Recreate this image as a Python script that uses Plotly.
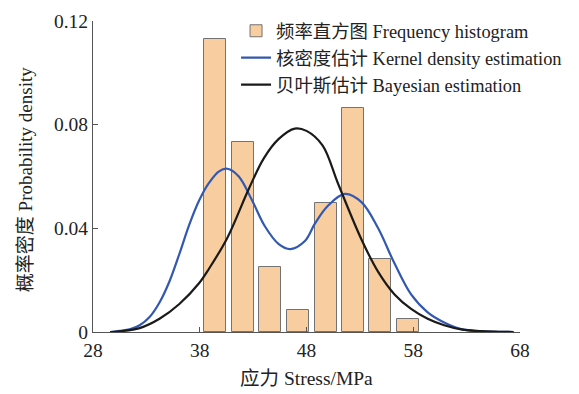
import plotly.graph_objects as go

# Histogram (density)
bin_centers = [39.44, 42.07, 44.62, 47.22, 49.82, 52.37, 54.92, 57.52]
bin_density = [0.113, 0.0733, 0.0249, 0.0083, 0.0498, 0.0864, 0.0283, 0.0049]

# Kernel density estimation curve (read points)
kde_x = [29.7, 30.51, 31.44, 32.37, 33.3, 34.23, 35.16, 36.09, 37.02, 37.95, 38.88, 39.81,
         40.59, 41.64, 42.9, 44.1, 45.4, 46.5, 47.85, 48.81, 50.05, 51.6, 53.15, 54.7,
         56.25, 57.8, 59.35, 60.9, 62.5, 64.0, 65.5, 67.4]
kde_y = [0.0, 0.0004, 0.001, 0.0026, 0.0058, 0.0114, 0.0195, 0.0301, 0.0414, 0.0508, 0.0576,
         0.062, 0.063, 0.0601, 0.0508, 0.0408, 0.0339, 0.032, 0.0351, 0.042, 0.0489, 0.0533,
         0.0501, 0.0401, 0.0264, 0.0145, 0.0076, 0.0037, 0.0011, 0.0003, 0.0001, 0.0]

# Bayesian estimation curve (read points)
bay_x = [29.6, 30.5, 32.37, 34.23, 36.09, 37.95, 38.88, 40.59, 42.57, 44.0, 45.4, 46.9,
         48.0, 49.5, 50.98, 53.15, 54.7, 56.25, 57.8, 59.35, 60.9, 62.5, 64.5, 66.0, 67.4]
bay_y = [0.0, 0.0003, 0.0015, 0.0051, 0.0108, 0.0189, 0.0245, 0.0364, 0.055, 0.067, 0.0745,
         0.0785, 0.0776, 0.072, 0.057, 0.0357, 0.0233, 0.0145, 0.0089, 0.0051, 0.0026,
         0.001, 0.0003, 0.0001, 0.0]

x_ticks = [28, 38, 48, 58, 68]
y_ticks = [0, 0.04, 0.08, 0.12]
y_tick_labels = ["0", "0.04", "0.08", "0.12"]

FONT = "Liberation Serif, Times New Roman, Noto Sans CJK SC, serif"

fig = go.Figure()
fig.add_trace(go.Bar(
    x=bin_centers, y=bin_density, width=2.05,
    marker=dict(color="#F8CDA0", line=dict(color="#737373", width=1)),
    name="频率直方图 Frequency histogram",
))
fig.add_trace(go.Scatter(
    x=kde_x, y=kde_y, mode="lines", line=dict(color="#3358B0", width=2.2, shape="spline"),
    name="核密度估计 Kernel density estimation",
))
fig.add_trace(go.Scatter(
    x=bay_x, y=bay_y, mode="lines", line=dict(color="#1A1A1A", width=2.2, shape="spline"),
    name="贝叶斯估计 Bayesian estimation",
))

axis_common = dict(
    showgrid=False, zeroline=False, showline=True, linecolor="#555555", linewidth=1.2,
    ticks="inside", ticklen=5, tickcolor="#555555", tickwidth=1,
    tickfont=dict(family=FONT, size=19.5, color="#222222"),
)

fig.update_layout(
    width=579, height=394,
    margin=dict(l=93, r=56, t=12, b=62),
    paper_bgcolor="white", plot_bgcolor="white",
    xaxis=dict(range=[28, 68], tickvals=x_ticks, **axis_common),
    yaxis=dict(range=[0, 0.12], tickvals=y_ticks, ticktext=y_tick_labels, **axis_common),
    showlegend=True,
    legend=dict(
        x=0.335, y=1.028, xanchor="left", yanchor="top",
        bgcolor="rgba(0,0,0,0)", borderwidth=0,
        font=dict(family=FONT, size=18.4, color="#222222"),
        tracegroupgap=0, itemwidth=30,
    ),
    bargap=0,
    annotations=[
        dict(text="应力 Stress/MPa", xref="paper", yref="paper", x=0.5, y=-0.15,
             xanchor="center", yanchor="middle", showarrow=False,
             font=dict(family=FONT, size=19.5, color="#222222")),
        dict(text="概率密度 Probability density", xref="paper", yref="paper", x=-0.158, y=0.49,
             xanchor="center", yanchor="middle", showarrow=False, textangle=-90,
             font=dict(family=FONT, size=19, color="#222222")),
    ],
)

fig.write_html("out.html")
